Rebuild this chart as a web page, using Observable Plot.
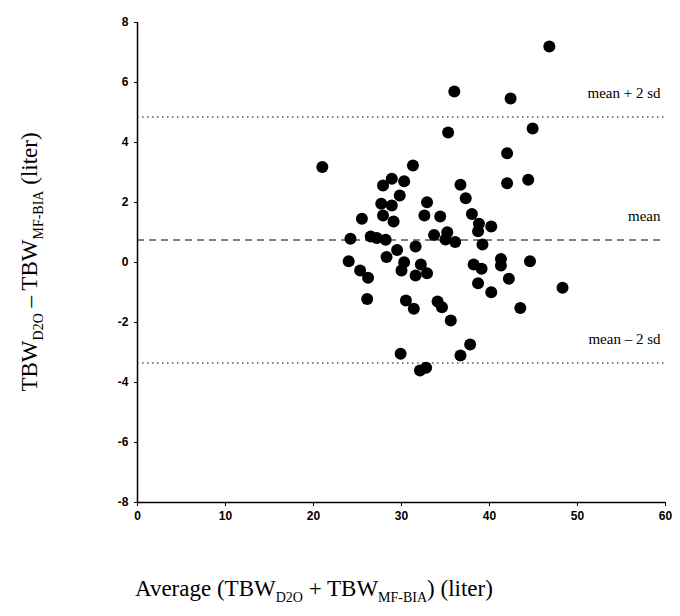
<!DOCTYPE html>
<html><head><meta charset="utf-8">
<script src="https://cdn.jsdelivr.net/npm/d3@7"></script>
<script src="https://cdn.jsdelivr.net/npm/@observablehq/plot@0.6"></script>
<style>
body{margin:0;background:#fff;}
#wrap{position:relative;width:680px;height:616px;}
.lab{position:absolute;font-family:"Liberation Serif",serif;font-size:23px;color:#000;white-space:nowrap;}
.lab sub{font-size:14px;}
</style></head><body>
<div id="wrap">
  <div id="chart"></div>
  <div class="lab" style="left:135px;top:576px;">Average (TBW<sub>D2O</sub> + TBW<sub>MF-BIA</sub>) (liter)</div>
  <div class="lab" style="left:32px;top:262px;transform:translate(-50%,-50%) rotate(-90deg);">TBW<sub>D2O</sub> – TBW<sub>MF-BIA</sub> (liter)</div>
</div>
<script>
const avg = [21.0,31.3,42.0,42.0,44.4,27.9,28.9,30.3,36.7,37.3,29.8,27.7,28.9,32.9,32.6,34.4,27.9,29.1,25.5,38.0,38.8,38.7,40.2,24.2,26.5,27.2,28.2,33.7,35.2,35.0,36.1,39.2,31.6,24.0,29.5,28.3,25.3,26.2,30.3,30.0,32.2,32.9,31.6,38.2,39.1,41.3,41.3,44.6,42.2,38.7,40.2,48.3,26.1,30.5,31.4,34.1,34.6,35.6,43.5,37.8,36.7,29.9,32.1,32.8,46.8,36.0,42.4,35.3,44.9];
const diff = [3.18,3.23,3.64,2.64,2.76,2.57,2.79,2.71,2.59,2.14,2.23,1.96,1.9,2.01,1.57,1.53,1.57,1.37,1.46,1.62,1.29,1.04,1.2,0.79,0.87,0.82,0.76,0.92,1.01,0.77,0.68,0.6,0.53,0.04,0.42,0.18,-0.27,-0.51,0.01,-0.27,-0.07,-0.36,-0.43,-0.07,-0.21,0.12,-0.1,0.04,-0.54,-0.69,-0.99,-0.84,-1.22,-1.27,-1.54,-1.3,-1.49,-1.93,-1.52,-2.73,-3.1,-3.04,-3.6,-3.51,7.2,5.7,5.47,4.33,4.47];
const meanDiff = 0.75;
const upper = 4.85;
const lower = -3.35;
const refLabels = [{y: upper, t: "mean + 2 sd"}, {y: meanDiff, t: "mean"}, {y: lower, t: "mean – 2 sd"}];
const pts = avg.map((a, i) => ({a, d: diff[i]}));

const chart = Plot.plot({
  width: 680, height: 540,
  marginLeft: 137, marginRight: 15, marginTop: 22, marginBottom: 38,
  style: {fontFamily: "Liberation Sans, Arial, sans-serif", fontSize: "12px", fontWeight: "bold"},
  x: {domain: [0, 60], label: null},
  y: {domain: [-8, 8], label: null},
  marks: [
    Plot.ruleY([upper, lower], {strokeDasharray: "1.5,3.5", stroke: "#000"}),
    Plot.ruleY([meanDiff], {strokeDasharray: "7,5", stroke: "#000"}),
    Plot.text(refLabels, {x: 60, y: "y", text: "t", dy: -24, dx: -5, textAnchor: "end",
      fontFamily: "Liberation Serif, serif", fontWeight: "normal", fontSize: 15}),
    Plot.dot(pts, {x: "a", y: "d", r: 6, fill: "#000", stroke: "none"}),
    Plot.ruleX([0], {stroke: "#000", strokeWidth: 1.5}),
    Plot.ruleY([-8], {stroke: "#000", strokeWidth: 1.5}),
    Plot.axisY({ticks: [-8,-6,-4,-2,0,2,4,6,8], tickSize: 3, label: null, tickFormat: d => String(d)}),
    Plot.axisX({ticks: [0,10,20,30,40,50,60], tickSize: 4, label: null, tickFormat: d => String(d)})
  ]
});
d3.select("#chart").append(() => chart);
</script>
</body></html>
